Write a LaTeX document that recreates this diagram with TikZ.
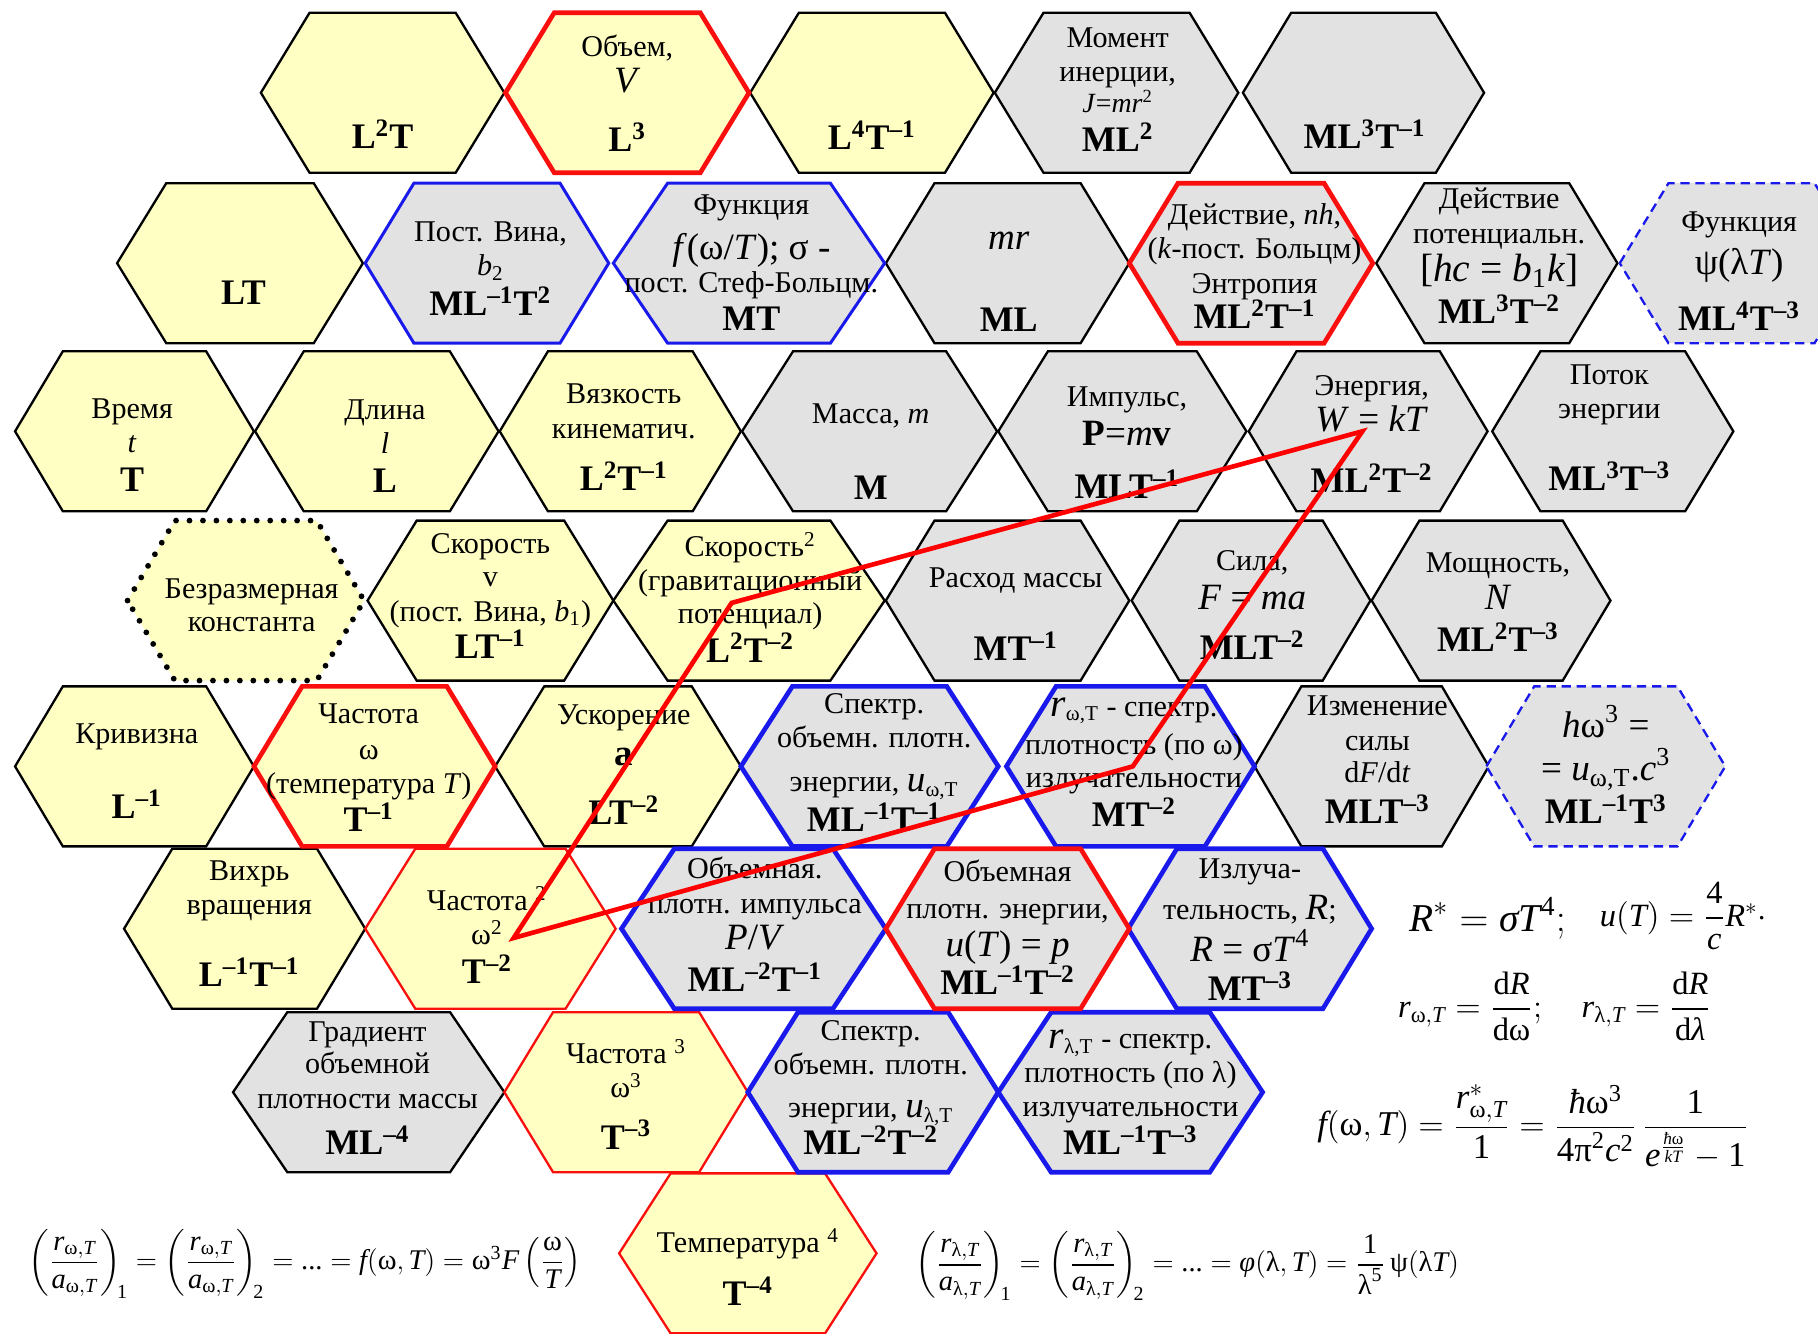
\documentclass[tikz,border=0pt]{standalone}
\usepackage{fontspec}
\setmainfont{Liberation Serif}
\usepackage{amsmath}
\definecolor{hy}{RGB}{255,255,196}
\definecolor{hg}{RGB}{226,226,226}
\definecolor{hblue}{RGB}{25,25,235}
\definecolor{hred}{RGB}{250,15,15}
\newcommand\sps[1]{\textsuperscript{#1}}
\newcommand\sbs[1]{\textsubscript{#1}}
\newcommand\Tx[1]{\text{\itshape #1}}
\newcommand\Tu[1]{\text{#1}}
\newcommand\hexa[4]{\path[#1] ({#2-#4},{#3}) -- ({#2-0.6*#4},{#3-69}) -- ({#2+0.6*#4},{#3-69}) -- ({#2+#4},{#3}) -- ({#2+0.6*#4},{#3+69}) -- ({#2-0.6*#4},{#3+69}) -- cycle;}
\tikzset{
 yel/.style={fill=hy, draw=black, line width=1pt},
 gry/.style={fill=hg, draw=black, line width=1pt},
 rth/.style={draw=hred, line width=2pt},
 rtn/.style={draw=hred, line width=1pt},
 bth/.style={draw=hblue, line width=2pt},
 bmd/.style={draw=hblue, line width=1.3pt},
 bds/.style={draw=hblue, line width=1pt, dash pattern=on 4pt off 2.5pt},
 dtd/.style={draw=black, line width=2.5pt, dash pattern=on 0pt off 5.8pt, line cap=round},
 tx/.style={inner sep=0pt, anchor=base, yshift=-3.5pt, font=\fontsize{13}{15}\selectfont},
 tb/.style={inner sep=0pt, anchor=base, yshift=-5pt, font=\fontsize{15.5}{18}\selectfont\bfseries},
 tlg/.style={inner sep=0pt, anchor=base, yshift=-4pt, font=\fontsize{16}{19}\selectfont},
 eqn/.style={inner sep=0pt, font=\fontsize{16}{19}\selectfont},
 rline/.style={draw=red, line width=2pt, line join=miter},
}
\begin{document}
\begin{tikzpicture}[x=0.5pt,y=-0.5pt]
\useasboundingbox (0,0) rectangle (1568,1150);
\clip (0,0) rectangle (1568,1150);
% black-border yellow
\hexa{yel}{330}{80}{105}
\hexa{yel}{752}{80}{105}
\hexa{yel}{207}{227}{106}
\hexa{yel}{116}{372}{103}
\hexa{yel}{325}{372}{105}
\hexa{yel}{535}{372}{104}
\hexa{yel}{423}{518}{106}
\hexa{yel}{646}{518}{117}
\hexa{yel}{116}{661}{103}
\hexa{yel}{533}{661}{106}
\hexa{yel}{211}{801}{104}
% black-border gray
\hexa{gry}{963}{80}{105}
\hexa{gry}{1176}{80}{104}
\hexa{gry}{869}{227}{105}
\hexa{gry}{1291}{227}{104}
\hexa{gry}{750}{372}{110}
\hexa{gry}{968}{372}{107}
\hexa{gry}{1180}{372}{103}
\hexa{gry}{1391}{372}{104}
\hexa{gry}{869}{518}{105}
\hexa{gry}{1079}{518}{103}
\hexa{gry}{1286}{518}{103}
\hexa{gry}{1183}{661}{101}
\hexa{gry}{318}{942}{117}
% coloured borders
\hexa{yel,dtd}{212}{518}{102}
\hexa{gry,bmd}{420}{227}{105}
\hexa{gry,bmd}{646}{227}{117}
\hexa{gry,bds}{1502}{227}{105}
\hexa{gry,bds}{1385}{661}{103}
\hexa{yel,rtn}{423}{801}{108}
\hexa{yel,rtn}{540}{942}{105}
\hexa{yel,rtn}{645}{1081}{111}
\hexa{gry,bth}{750}{661}{111}
\hexa{gry,bth}{975}{661}{107}
\hexa{gry,bth}{650}{801}{114}
\hexa{gry,bth}{1078}{801}{105}
\hexa{gry,bth}{753}{942}{108}
\hexa{gry,bth}{975}{942}{114}
\hexa{yel,rth}{541}{80}{105}
\hexa{gry,rth}{1079}{227}{105}
\hexa{yel,rth}{323}{661}{104}
\hexa{gry,rth}{869}{801}{105}
% row 1
\node[tb] (a1) at (330,118) {L\sps{2}T};
\node[tx] (b1) at (541,42) {Объем,};
\node[tlg] (b2) at (541,72) {\textit{V}};
\node[tb] (b3) at (541,121) {L\sps{3}};
\node[tb] (c1) at (752,119) {L\sps{4}T\sps{–1}};
\node[tx] (d1) at (964,34) {Момент};
\node[tx] (d2) at (964,63) {инерции,};
\node[tx, font=\fontsize{12}{14}\selectfont] (d3) at (964,90) {\textit{J}=\textit{mr}\sps{2}};
\node[tb] (d4) at (964,121) {ML\sps{2}};
\node[tb] (e1) at (1177,118) {ML\sps{3}T\sps{–1}};
% row 2
\node[tb] (f1) at (210,253) {LT};
\node[tx] (g1) at (423,201) {Пост. Вина,};
\node[tx] (g2) at (423,231) {\textit{b}\sbs{2}};
\node[tb] (g3) at (423,262) {ML\sps{–1}T\sps{2}};
\node[tx] (h1) at (648,178) {Функция};
\node[tlg] (h2) at (648,216) {\textit{f}(ω/\textit{T}); σ -};
\node[tx] (h3) at (648,245) {пост. Стеф-Больцм.};
\node[tb] (h4) at (648,275) {MT};
\node[tlg] (i1) at (870,207) {\textit{mr}};
\node[tb] (i2) at (870,276) {ML};
\node[tx] (j1) at (1082,187) {Действие, \textit{nh},};
\node[tx] (j2) at (1082,216) {(\textit{k}-пост. Больцм)};
\node[tx] (j3) at (1082,246) {Энтропия};
\node[tb] (j4) at (1082,273) {ML\sps{2}T\sps{–1}};
\node[tx] (k1) at (1293,173) {Действие};
\node[tx] (k2) at (1293,203) {потенциальн.};
\node[tlg, font=\fontsize{17}{19}\selectfont] (k3) at (1293,235) {[\textit{hc} = \textit{b}\sbs{1}\textit{k}]};
\node[tb] (k4) at (1293,269) {ML\sps{3}T\sps{–2}};
\node[tx] (l1) at (1500,193) {Функция};
\node[tlg] (l2) at (1500,229) {ψ(λ\textit{T})};
\node[tb] (l3) at (1500,275) {ML\sps{4}T\sps{–3}};
% row 3
\node[tx] (m1) at (114,354) {Время};
\node[tx] (m2) at (114,383) {\textit{t}};
\node[tb] (m3) at (114,414) {T};
\node[tx] (n1) at (332,355) {Длина};
\node[tx] (n2) at (332,384) {\textit{l}};
\node[tb] (n3) at (332,415) {L};
\node[tx] (o1) at (538,341) {Вязкость};
\node[tx] (o2) at (538,371) {кинематич.};
\node[tb] (o3) at (538,413) {L\sps{2}T\sps{–1}};
\node[tx] (p1) at (751,358) {Масса, \textit{m}};
\node[tb] (p2) at (751,421) {M};
\node[tx] (q1) at (972,344) {Импульс,};
\node[tlg] (q2) at (972,376) {\textbf{P}=\textit{m}\textbf{v}};
\node[tb] (q3) at (972,420) {MLT\sps{–1}};
\node[tx] (r1) at (1183,334) {Энергия,};
\node[tlg] (r2) at (1183,364) {\textit{W} = \textit{kT}};
\node[tb] (r3) at (1183,415) {ML\sps{2}T\sps{–2}};
\node[tx] (s1) at (1388,325) {Поток};
\node[tx] (s2) at (1388,354) {энергии};
\node[tb] (s3) at (1388,413) {ML\sps{3}T\sps{–3}};
% row 4
\node[tx] (t1) at (217,509) {Безразмерная};
\node[tx] (t2) at (217,538) {константа};
\node[tx] (u1) at (423,470) {Скорость};
\node[tx] (u2) at (423,499) {v};
\node[tx] (u3) at (423,529) {(пост. Вина, \textit{b}\sbs{1})};
\node[tb] (u4) at (423,558) {LT\sps{–1}};
\node[tx] (v1) at (647,473) {Скорость\sps{2}};
\node[tx] (v2) at (647,502) {(гравитационный};
\node[tx] (v3) at (647,531) {потенциал)};
\node[tb] (v4) at (647,561) {L\sps{2}T\sps{–2}};
\node[tx] (w1) at (876,500) {Расход массы};
\node[tb] (w2) at (876,560) {MT\sps{–1}};
\node[tx] (x1) at (1080,485) {Сила,};
\node[tlg] (x2) at (1080,518) {\textit{F} = \textit{ma}};
\node[tb] (x3) at (1080,559) {MLT\sps{–2}};
\node[tx] (y1) at (1292,487) {Мощность,};
\node[tlg] (y2) at (1292,518) {\textit{N}};
\node[tb] (y3) at (1292,552) {ML\sps{2}T\sps{–3}};
% row 5
\node[tx] (z1) at (118,634) {Кривизна};
\node[tb] (z2) at (118,696) {L\sps{–1}};
\node[tx] (A1) at (318,617) {Частота};
\node[tx] (A2) at (318,648) {ω};
\node[tx] (A3) at (318,677) {(температура \textit{T})};
\node[tb] (A4) at (318,707) {T\sps{–1}};
\node[tx] (B1) at (538,618) {Ускорение};
\node[tlg] (B2) at (538,652) {\textbf{a}};
\node[tb] (B3) at (538,701) {LT\sps{–2}};
\node[tx] (C1) at (754,608) {Спектр.};
\node[tx] (C2) at (754,638) {объемн. плотн.};
\node[tx] (C3) at (754,676) {энергии, {\fontsize{16}{18}\selectfont\textit{u}}\sbs{ω,T}};
\node[tb] (C4) at (754,707) {ML\sps{–1}T\sps{–1}};
\node[tx] (D1) at (978,611) {{\fontsize{17}{19}\selectfont\textit{r}}\sbs{ω,T} - спектр.};
\node[tx] (D2) at (978,644) {плотность (по ω)};
\node[tx] (D3) at (978,672) {излучательности};
\node[tb] (D4) at (978,703) {MT\sps{–2}};
\node[tx] (E1) at (1188,610) {Изменение};
\node[tx] (E2) at (1188,640) {силы};
\node[tx] (E3) at (1188,668) {d\textit{F}/d\textit{t}};
\node[tb] (E4) at (1188,700) {MLT\sps{–3}};
\node[tlg] (F1) at (1385,628) {\textit{h}ω\sps{3} =};
\node[tlg] (F2) at (1385,665) {= \textit{u}\sbs{ω,T}.\textit{c}\sps{3}};
\node[tb] (F3) at (1385,700) {ML\sps{–1}T\sps{3}};
% row 6
\node[tx] (G1) at (215,752) {Вихрь};
\node[tx] (G2) at (215,782) {вращения};
\node[tb] (G3) at (215,841) {L\sps{–1}T\sps{–1}};
\node[tx] (H1) at (420,778) {Частота \sps{2}};
\node[tx] (H2) at (420,808) {ω\sps{2}};
\node[tb] (H3) at (420,838) {T\sps{–2}};
\node[tx] (I1) at (651,751) {Объемная.};
\node[tx] (I2) at (651,781) {плотн. импульса};
\node[tlg] (I3) at (651,811) {\textit{P}/\textit{V}};
\node[tb] (I4) at (651,845) {ML\sps{–2}T\sps{–1}};
\node[tx] (J1) at (869,753) {Объемная};
\node[tx] (J2) at (869,785) {плотн. энергии,};
\node[tlg] (J3) at (869,817) {\textit{u}(\textit{T}) = \textit{p}};
\node[tb] (J4) at (869,848) {ML\sps{–1}T\sps{–2}};
\node[tx] (K1) at (1078,751) {Излуча-};
\node[tx] (K2) at (1078,786) {тельность, {\fontsize{16}{18}\selectfont\textit{R}};};
\node[tlg] (K3) at (1078,821) {\textit{R} = σ\textit{T}\sps{4}};
\node[tb] (K4) at (1078,853) {MT\sps{–3}};
% row 7
\node[tx] (L1) at (317,891) {Градиент};
\node[tx] (L2) at (317,919) {объемной};
\node[tx] (L3) at (317,949) {плотности массы};
\node[tb] (L4) at (317,986) {ML\sps{–4}};
\node[tx] (M1) at (540,910) {Частота \sps{3}};
\node[tx] (M2) at (540,940) {ω\sps{3}};
\node[tb] (M3) at (540,981) {T\sps{–3}};
\node[tx] (N1) at (751,890) {Спектр.};
\node[tx] (N2) at (751,920) {объемн. плотн.};
\node[tx] (N3) at (751,957) {энергии, {\fontsize{16}{18}\selectfont\textit{u}}\sbs{λ,T}};
\node[tb] (N4) at (751,986) {ML\sps{–2}T\sps{–2}};
\node[tx] (O1) at (975,897) {{\fontsize{17}{19}\selectfont\textit{r}}\sbs{λ,T} - спектр.};
\node[tx] (O2) at (975,927) {плотность (по λ)};
\node[tx] (O3) at (975,956) {излучательности};
\node[tb] (O4) at (975,986) {ML\sps{–1}T\sps{–3}};
% row 8
\node[tx] (P1) at (645,1073) {Температура \sps{4}};
\node[tb] (P2) at (645,1116) {T\sps{–4}};
% equations
\node[eqn, font=\fontsize{17}{20}\selectfont] (q01) at (1283,792) {$\Tx{R}^{*} = \Tx{σT}^{\Tu{4}};$};
\node[eqn, font=\fontsize{14}{17}\selectfont] (q02) at (1452,790) {$\Tx{u}(\Tx{T}) = \dfrac{\Tu{4}}{\Tx{c}}\Tx{R}^{*}\cdot$};
\node[eqn, font=\fontsize{14}{17}\selectfont] (q03) at (1268,868) {$\Tx{r}_{\Tu{ω},\Tx{T}} = \dfrac{\Tu{d}\Tx{R}}{\Tu{dω}};$};
\node[eqn, font=\fontsize{14}{17}\selectfont] (q04) at (1420,868) {$\Tx{r}_{\Tu{λ},\Tx{T}} = \dfrac{\Tu{d}\Tx{R}}{\Tu{d}\Tx{λ}}$};
\node[eqn, font=\fontsize{15}{18}\selectfont] (q05) at (1322,972) {$\Tx{f}(\Tu{ω},\Tx{T}) = \dfrac{\Tx{r}^{*}_{\Tu{ω},\Tx{T}}}{\Tu{1}} = \dfrac{\Tx{ħ}\Tu{ω}^{\Tu{3}}}{\Tu{4π}^{\Tu{2}}\Tx{c}^{\Tu{2}}}\,\dfrac{\Tu{1}}{\Tx{e}^{\frac{\Tx{ħ}\Tu{ω}}{\Tx{kT}}}-\Tu{1}}$};
\node[eqn, font=\fontsize{12.3}{15}\selectfont] (q06) at (263,1090) {$\left(\dfrac{\Tx{r}_{\Tu{ω},\Tx{T}}}{\Tx{a}_{\Tu{ω},\Tx{T}}}\right)_{\!\Tu{1}} = \left(\dfrac{\Tx{r}_{\Tu{ω},\Tx{T}}}{\Tx{a}_{\Tu{ω},\Tx{T}}}\right)_{\!\Tu{2}} = \Tu{...}= \Tx{f}(\Tu{ω},\Tx{T}) = \Tu{ω}^{\Tu{3}}\Tx{F}\left(\dfrac{\Tu{ω}}{\Tx{T}}\right)$};
\node[eqn, font=\fontsize{12.3}{15}\selectfont] (q07) at (1024,1092) {$\left(\dfrac{\Tx{r}_{\Tu{λ},\Tx{T}}}{\Tx{a}_{\Tu{λ},\Tx{T}}}\right)_{\!\Tu{1}} = \left(\dfrac{\Tx{r}_{\Tu{λ},\Tx{T}}}{\Tx{a}_{\Tu{λ},\Tx{T}}}\right)_{\!\Tu{2}} = \Tu{...}= \Tx{φ}(\Tu{λ},\Tx{T}) = \dfrac{\Tu{1}}{\Tu{λ}^{\Tu{5}}}\,\Tu{ψ}(\Tu{λ}\Tx{T})$};
% red polyline
\coordinate (rp1) at (1175,372);
\coordinate (rp2) at (631,520);
\coordinate (rp3) at (443,809);
\coordinate (rp4) at (977,661);
\draw[rline] (rp1) -- (rp2) -- (rp3) -- (rp4) -- cycle;
\end{tikzpicture}
\end{document}
